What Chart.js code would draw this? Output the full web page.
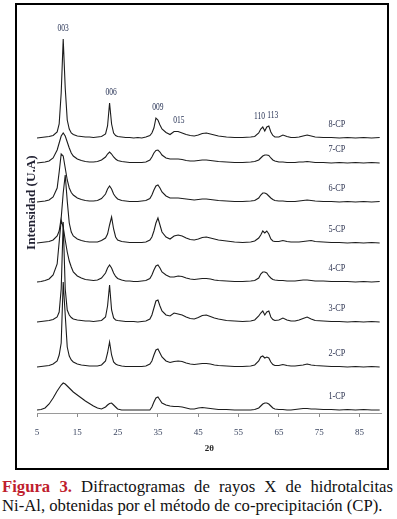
<!DOCTYPE html>
<html>
<head>
<meta charset="utf-8">
<script src="https://cdn.jsdelivr.net/npm/chart.js@4/dist/chart.umd.min.js"></script>
<style>
  html, body { margin: 0; padding: 0; background: #fff; }
  body { width: 397px; height: 519px; overflow: hidden; position: relative; }
  #frame { position: absolute; left: 15px; top: 3px; width: 370px; height: 463px; border: 2px solid #000; }
  #frame canvas { position: absolute; left: 0; top: 0; }
  #cap { position: absolute; left: 2px; top: 477px; width: 391px; font-family: "Liberation Serif", "Times New Roman", serif; font-size: 16.7px; line-height: 19px; color: #111; }
  #cap .l1 { text-align: justify; text-align-last: justify; }
  #cap b { color: #BF1E2E; }
</style>
</head>
<body>
<div id="frame"><canvas id="c" width="370" height="463"></canvas></div>
<div id="cap">
  <div class="l1"><b>Figura 3.</b> Difractogramas de rayos X de hidrotalcitas</div>
  <div>Ni-Al, obtenidas por el método de co-precipitación (CP).</div>
</div>
<script>
// 2θ sampling grid (degrees)
const twoTheta = [5,6,7,8,9,10,10.5,11,11.5,12,
  12.5,13,13.5,14,15,16,17,18,19,20,
  21,22,22.5,23,23.5,24,24.5,25,26,27,
  28,29,30,31,32,33,33.5,34,34.5,35,
  35.5,36,37,38,39,40,41,42,43,44,
  45,46,47,48,49,50,52,54,56,58,
  59,60,60.5,61,61.5,62,62.5,63,63.5,64,
  65,66,67,68,69,70,71,72,73,74,
  76,78,80,82,84,86,88,90];

const sampleNames = ["1-CP","2-CP","3-CP","4-CP","5-CP","6-CP","7-CP","8-CP"];
// vertical offsets of each diffractogram (U.A)
const offsets = [3,46,91,131,170,211,250,275];

// intensities (U.A) above each trace's own baseline
const cp1 = [0,0.5,2,6,12,19,22,25,27,26,
  24,22,20,18,15,12,9,6.5,4,2,
  1,3,5,6.5,7,5,3,1,0,0,
  0,0,0,0,0,0,3,8,12,13,
  10,7,5,4,3.5,3.5,3,2,1,1,
  2,2.5,2,1.5,1,0.5,0.5,0,0,0,
  0.5,2,4,6,7,7,6,4,2,1,
  0.5,0.5,0,0,0.5,1,1.5,1.5,1,1,
  0.5,0.5,0,0.5,0,0.5,0,0];
const cp2 = [0,0.5,1,1.5,3,6,12,24,85,52,
  20,11,7,5,3,2,1.5,1,1,1,
  2,6,14,25,12,5,3,2,1,0.5,
  0.5,0.5,0.5,0.5,1,3,6,12,17,18,
  14,10,6,4.5,5.5,6,5.5,4,3,2.5,
  3,3.5,3.5,3,2,1.5,1,0.5,0.5,1,
  2,6,10,11,9,10,9,5,2.5,1.5,
  1.5,2.5,1.5,1,1,1.5,2,3,2,1.5,
  1,0.5,0.5,0,0.5,0,0.5,0];
const cp3 = [0,0.5,1,1.5,2.5,5,10,33,100,33,
  12,7,4.5,3,2,1.5,1,1,0.5,1,
  1.5,5,16,37,12,4,2,1.5,1,0.5,
  0.5,0.5,0,0.5,1,3,7,14,21,22,
  16,11,7,6,9,8,7,5,3.5,3,
  4.5,6.5,7,5.5,4,3,1.5,1,0.5,1,
  2,6,9,11,7,10,11,5,2.5,1.5,
  2,4,2,1,1,2,3.5,5,3,1.5,
  1,0.5,0.5,0,0.5,0,0.5,0];
const cp4 = [0,0.5,1.5,3,7,18,40,62,55,42,
  30,21,15,10,6,4,2.5,2,1.5,2,
  4,9,14,17,14,9,5.5,3.5,2,1,
  1,0.5,0.5,1,1.5,3.5,7,12,16,17,
  14,10,7,5,5,6,5.5,4,3,2.5,
  3,3.5,3.5,3,2,1.5,1,0.5,0.5,1,
  1.5,4,8,10,10,9,6,4,2.5,2,
  1.5,1.5,1,1,1,1.5,2,2,1.5,1,
  1,0.5,0.5,0.5,0,0.5,0,0.5];
const cp5 = [0,0.5,1,1.5,3,7,12,25,50,68,
  42,20,11,7,4,2.5,1.5,1,1,1,
  2.5,5,9,18,26,14,6,3,1.5,1,
  0.5,0.5,0.5,0.5,1,3,6,12,20,25,
  18,11,6,4,7,8,7,5,3.5,3,
  4,5.5,6,5,4,3,2,1,0.5,1,
  2,5,8,12,10,12,9,4,2,1.5,
  1.5,2.5,1.5,1,1,1,1.5,2,2.5,1.5,
  1,0.5,0.5,0,0.5,0,0.5,0];
const cp6 = [0,0.5,1,2,5,14,30,48,46,34,
  22,14,9.5,7,4,2.5,1.5,1,1,1.5,
  3.5,8,13,16,13,8,5,3,1.5,1,
  0.5,0.5,0.5,1,1.5,3.5,7,12,16,17,
  14,10,6,4,4,4,3.5,3,2.5,2,
  2.5,3,3,2.5,2,1.5,1,0.5,0.5,1,
  1.5,4,7,9,9,8,6,4,2.5,1.5,
  1,1,0.5,0.5,0.5,1,1.5,2,1.5,1,
  0.5,0.5,0,0.5,0,0.5,0,0.5];
const cp7 = [0,0.5,1,2,5,13,20,27,30,27,
  21,15,10,7,4,2.5,1.5,1,1,1.5,
  3,6,9,11,9,6,4,2.5,1.5,1,
  0.5,0.5,0.5,0.5,1,3,6,10,12.5,13,
  11,8,5,4,4,4,3.5,2.5,2,2,
  2.5,3,3,2.5,2,1.5,1,0.5,0.5,1,
  1.5,3,5,7,8,8,7.5,5,3,2,
  1,1,0.5,0.5,0.5,1,1,1.5,1,0.5,
  0.5,0,0.5,0,0.5,0,0.5,0];
const cp8 = [0,0.5,1,1.5,2.5,6,14,45,99,50,
  18,9,5,3.5,2,1.5,1,1,0.5,1,
  1.5,4,12,35,14,5,2.5,1.5,1,0.5,
  0.5,0,0.5,0,1,2.5,5,10,20,18,
  13,9,5.5,3.5,6.5,6.5,5,3.5,2.5,2,
  3,4.5,5,4,3,2,1,0.5,0.5,1,
  1.5,5,9,11,7,11,12,6,2.5,1,
  1,3,1.5,0.5,0.5,1,2,3,2,1,
  0.5,0.5,0,0.5,0,0.5,0,0.5];
const intensities = [cp1,cp2,cp3,cp4,cp5,cp6,cp7,cp8];

// Miller-index labels for the 8-CP pattern, with their 2θ
const peakLabels = ["003","006","009","015","110","113"];
const peakLabelTheta = [11.45,23.4,35,40.2,60.2,63.5];

const xTicks = [5,15,25,35,45,55,65,75,85];
const xTitle = "2θ";
const yTitle = "Intensidad (U.A)";
const nameTheta = 79.4;

const datasets = sampleNames.map((name, i) => ({
  label: name,
  data: twoTheta.map((t, j) => ({ x: t, y: offsets[i] + intensities[i][j] })),
  borderColor: '#1c1c1c',
  borderWidth: 1.1,
  pointRadius: 0,
  tension: 0,
  fill: false
}));

function drawLabel(ctx, text, x, y, font, color, sx) {
  ctx.save();
  ctx.translate(x, y);
  ctx.scale(sx, 1);
  ctx.font = font;
  ctx.fillStyle = color;
  ctx.textAlign = 'center';
  ctx.textBaseline = 'middle';
  ctx.fillText(text, 0, 0);
  ctx.restore();
}

const annot = {
  id: 'annot',
  afterDatasetsDraw(chart) {
    const ctx = chart.ctx;
    const xs = chart.scales.x, ys = chart.scales.y;
    const ca = chart.chartArea;
    const top = intensities[intensities.length - 1];
    const topOff = offsets[offsets.length - 1];
    peakLabels.forEach((lab, k) => {
      const p = peakLabelTheta[k];
      let m = 0;
      twoTheta.forEach((t, j) => { if (Math.abs(t - p) <= 1 && top[j] > m) m = top[j]; });
      const px = xs.getPixelForValue(p);
      const py = ys.getPixelForValue(topOff + m) - 11;
      drawLabel(ctx, lab, px, py, '10px "Liberation Serif"', '#1e2a4e', 0.75);
    });
    sampleNames.forEach((n, i) => {
      const px = xs.getPixelForValue(nameTheta);
      const py = ys.getPixelForValue(offsets[i]) - 14;
      drawLabel(ctx, n, px, py, '10px "Liberation Serif"', '#2e3552', 0.82);
    });
    ctx.save();
    ctx.translate(ca.left - 5, ca.top + ca.height * 0.474);
    ctx.rotate(-Math.PI / 2);
    ctx.scale(1.1, 1);
    ctx.font = 'bold 12px "Liberation Serif"';
    ctx.fillStyle = '#222233';
    ctx.textAlign = 'center';
    ctx.textBaseline = 'middle';
    ctx.fillText(yTitle, 0, 0);
    ctx.restore();
  }
};

new Chart(document.getElementById('c'), {
  type: 'line',
  data: { datasets },
  options: {
    responsive: false,
    animation: false,
    devicePixelRatio: 1,
    layout: { padding: { left: 20, right: 5.3, top: 8, bottom: 14.4 } },
    plugins: { legend: { display: false }, tooltip: { enabled: false } },
    scales: {
      x: {
        type: 'linear',
        min: 5,
        max: 90.5,
        afterBuildTicks: (s) => { s.ticks = xTicks.map(v => ({ value: v })); },
        ticks: {
          autoSkip: false, maxRotation: 0, padding: 10,
          color: '#3a4560',
          font: { family: 'Liberation Serif', size: 9 },
          callback: (v) => String(v)
        },
        grid: { drawOnChartArea: false, drawTicks: true, tickLength: 4, color: '#8a8a8a' },
        border: { display: true, color: '#9a9a9a', width: 1 },
        title: {
          display: true, text: xTitle, color: '#222',
          font: { family: 'Liberation Serif', size: 9, weight: 'bold' },
          padding: { top: -5, bottom: 0 }
        }
      },
      y: { display: false, min: 0, max: 400 }
    }
  },
  plugins: [annot]
});
</script>
</body>
</html>
